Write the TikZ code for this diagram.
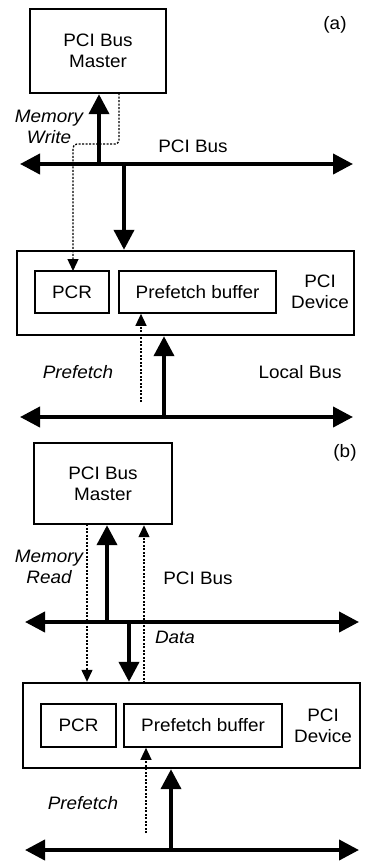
\documentclass[tikz,border=0pt]{standalone}
\usepackage{fontspec}
\setmainfont[FakeStretch=1.05]{Liberation Sans}
\usetikzlibrary{arrows.meta}
\begin{document}
\begin{tikzpicture}[x=1pt,y=-1pt,
  txt/.style={font=\fontsize{18}{21}\selectfont, align=center, inner sep=0pt},
  itxt/.style={txt, font=\fontsize{18}{21}\selectfont\itshape},
  bigbox/.style={draw, line width=2.4pt, inner sep=0pt, txt},
  smallbox/.style={draw, line width=1.6pt, inner sep=0pt, txt},
  bus/.style={line width=4pt, {Triangle[length=20pt,width=20pt]}-{Triangle[length=20pt,width=20pt]}},
  bigarrow/.style={line width=4pt, -{Triangle[length=20pt,width=20pt]}},
  dotarrow/.style={line width=1.3pt, dash pattern=on 2pt off 1.5pt, -{Triangle[length=12pt,width=11pt]}},
  dotline/.style={line width=1.3pt, dash pattern=on 2pt off 1.5pt}]
\useasboundingbox (0,0) rectangle (372,865);
% ---------------- (a) ----------------
\node[bigbox, minimum width=136pt, minimum height=84pt] (ma) at (98,51) {PCI Bus\\Master};
\node[txt] (la) at (335,25) {(a)};
\node[bigbox, minimum width=337pt, minimum height=84pt] (da) at (185.5,293) {};
\node[smallbox, minimum width=74pt, minimum height=42pt] (pa) at (72,292) {PCR};
\node[smallbox, minimum width=157pt, minimum height=42pt] (fa) at (197.5,292) {Prefetch buffer};
\node[txt] (dta) at (320,292) {PCI\\Device};
\node[itxt] (mwa) at (49,127) {Memory\\Write};
\node[txt] (pba) at (193,146) {PCI Bus};
\node[itxt] (pfa) at (78,372) {Prefetch};
\node[txt] (lba) at (300,372) {Local Bus};
\coordinate (busaL) at (20,164);
\coordinate (busaR) at (353,164);
\coordinate (a1) at (99,164);
\coordinate (a2) at (124,164);
\coordinate (lbaL) at (20,417);
\coordinate (lbaR) at (353,417);
\coordinate (a3) at (164,417);
\coordinate (a4) at (141,402);
\draw[bus] (busaL) -- (busaR);
\draw[bigarrow] (a1) -- (a1 |- ma.south);
\draw[bigarrow] (a2) -- (a2 |- da.north);
\draw[dotarrow, rounded corners=4pt] (119,93) -- (119,144) -- (73,144) -- (73 ,271);
\draw[bus] (lbaL) -- (lbaR);
\draw[bigarrow] (a3) -- (a3 |- da.south);
\draw[dotarrow] (a4) -- (a4 |- fa.south);
% ---------------- (b) ----------------
\node[bigbox, minimum width=138pt, minimum height=81pt] (mb) at (103,483.5) {PCI Bus\\Master};
\node[txt] (lb) at (345,453) {(b)};
\node[bigbox, minimum width=337pt, minimum height=85pt] (db) at (191.5,725.5) {};
\node[smallbox, minimum width=75pt, minimum height=43pt] (pb) at (78.5,725.5) {PCR};
\node[smallbox, minimum width=158pt, minimum height=43pt] (fb) at (203,725.5) {Prefetch buffer};
\node[txt] (dtb) at (323,726) {PCI\\Device};
\node[itxt] (mrb) at (49,567) {Memory\\Read};
\node[txt] (pbb) at (198,578) {PCI Bus};
\node[itxt] (dab) at (175,637) {Data};
\node[itxt] (pfb) at (83,803) {Prefetch};
\coordinate (busbL) at (25,622);
\coordinate (busbR) at (359,622);
\coordinate (b1) at (107,622);
\coordinate (b2) at (129,622);
\coordinate (b5) at (87,524);
\coordinate (b6) at (144,683);
\coordinate (lbbL) at (25,850);
\coordinate (lbbR) at (359,850);
\coordinate (b3) at (171,850);
\coordinate (b4) at (146,833);
\draw[bus] (busbL) -- (busbR);
\draw[bigarrow] (b1) -- (b1 |- mb.south);
\draw[bigarrow] (b2) -- (b2 |- db.north);
\draw[dotarrow] (b5) -- (b5 |- db.north);
\draw[dotarrow] (b6) -- (b6 |- mb.south);
\draw[bus] (lbbL) -- (lbbR);
\draw[bigarrow] (b3) -- (b3 |- db.south);
\draw[dotarrow] (b4) -- (b4 |- fb.south);
\end{tikzpicture}
\end{document}
